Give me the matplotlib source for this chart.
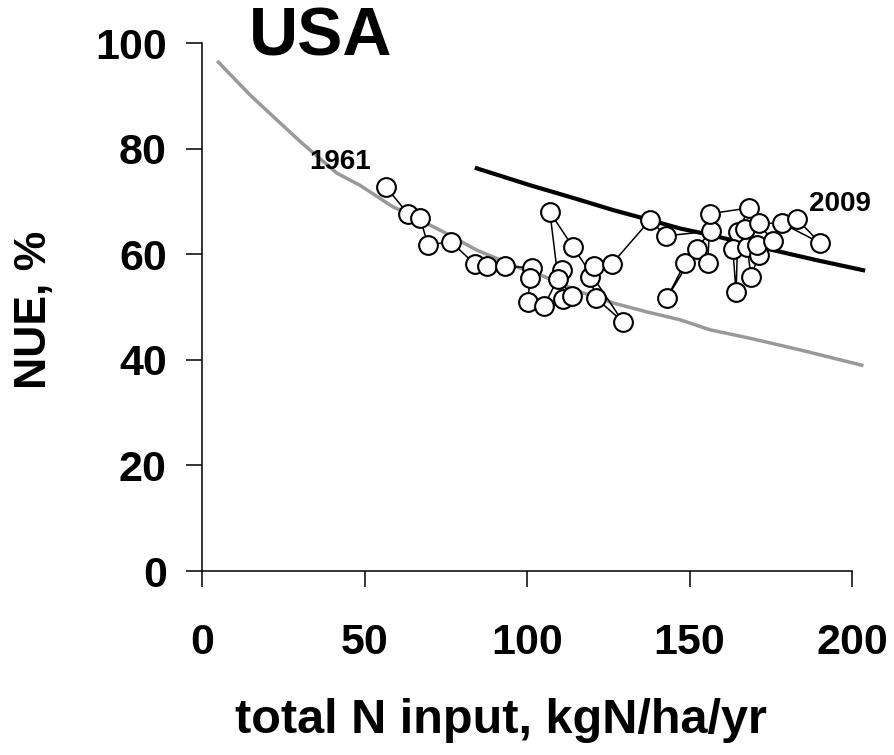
import matplotlib
matplotlib.use("Agg")
import matplotlib.pyplot as plt

plt.rcParams['font.family'] = ['Liberation Sans', 'DejaVu Sans']
plt.rcParams['font.weight'] = 'bold'

# yearly points 1961 -> 2009, N input (kgN/ha/yr) and NUE (%)
n_input = [56.5, 63.3, 67.0, 69.5, 76.5, 84.0, 87.7, 93.2, 101.5, 100.9,
           100.2, 105.2, 110.7, 111.0, 113.8, 109.5, 107.0, 114.1, 129.5, 121.2,
           119.3, 120.6, 126.1, 137.8, 142.7, 156.5, 148.6, 143.0, 152.3, 155.6,
           156.3, 168.3, 164.9, 164.3, 163.3, 167.7, 167.1, 168.9, 171.3, 170.7,
           175.6, 171.3, 178.4, 190.1, 183.0]
nue = [72.8, 67.7, 66.9, 61.8, 62.4, 58.1, 57.7, 57.7, 57.5, 55.6,
       51.0, 50.2, 57.0, 51.5, 52.1, 55.4, 68.0, 61.4, 47.2, 51.7,
       55.7, 57.8, 58.2, 66.5, 63.5, 64.4, 58.4, 51.7, 61.1, 58.4,
       67.7, 68.8, 64.3, 52.9, 61.0, 61.4, 64.8, 55.7, 59.9, 61.8,
       62.5, 65.9, 65.9, 62.2, 66.7]

# reference curves
grey_x = [5.0, 14.7, 30.1, 41.4, 48.5, 58.7, 60.9, 74.1, 84.5, 97.8, 104.0,
          116.3, 126.4, 136.8, 147.1, 156.3, 168.6, 184.0, 203.0]
grey_y = [96.4, 90.2, 81.4, 75.4, 73.1, 69.0, 68.4, 64.3, 60.8, 57.4, 56.1,
          52.9, 50.8, 49.1, 47.6, 45.7, 44.1, 41.9, 39.0]
black_x = [84.5, 100.9, 116.3, 126.4, 137.8, 147.1, 156.3, 175.7, 189.1, 203.4]
black_y = [76.3, 73.1, 70.3, 68.4, 66.5, 64.9, 63.7, 60.8, 58.9, 57.0]

fig = plt.figure(figsize=(8.95, 7.55), dpi=100)
ax = fig.add_axes([0.226, 0.2437, 0.726, 0.699])

ax.plot(grey_x, grey_y, color='#999999', lw=2.5, clip_on=False, zorder=2)
ax.plot(black_x, black_y, color='black', lw=3, clip_on=False, zorder=2)
ax.plot(n_input, nue, color='black', lw=1.1, marker='o', markersize=13.5,
        markerfacecolor='white', markeredgecolor='black', markeredgewidth=1.5,
        clip_on=False, zorder=3)

ax.text(42.4, 77.5, '1961', fontsize=20, fontweight='bold', ha='center', va='center')
ax.text(196.3, 69.5, '2009', fontsize=20, fontweight='bold', ha='center', va='center')

ax.set_xlim(0, 200)
ax.set_ylim(0, 100)
ax.set_xticks([0, 50, 100, 150, 200])
ax.set_yticks([0, 20, 40, 60, 80, 100])
for s in ['top', 'right']:
    ax.spines[s].set_visible(False)
for s in ['left', 'bottom']:
    ax.spines[s].set_linewidth(1.1)
ax.tick_params(direction='out', length=11.5, width=1.1, labelsize=31)
ax.tick_params(axis='x', pad=26)
ax.tick_params(axis='y', pad=14)
for lab in ax.get_xticklabels() + ax.get_yticklabels():
    lab.set_fontweight('bold')

fig.text(0.358, 0.95, 'USA', fontsize=49, fontweight='bold', ha='center', va='center')
fig.text(0.56, 0.046, 'total N input, kgN/ha/yr', fontsize=35, fontweight='bold',
         ha='center', va='center')
fig.text(0.039, 0.59, 'NUE, %', fontsize=32, fontweight='bold', rotation=90,
         ha='center', va='center')

fig.savefig('out.png', dpi=100)
